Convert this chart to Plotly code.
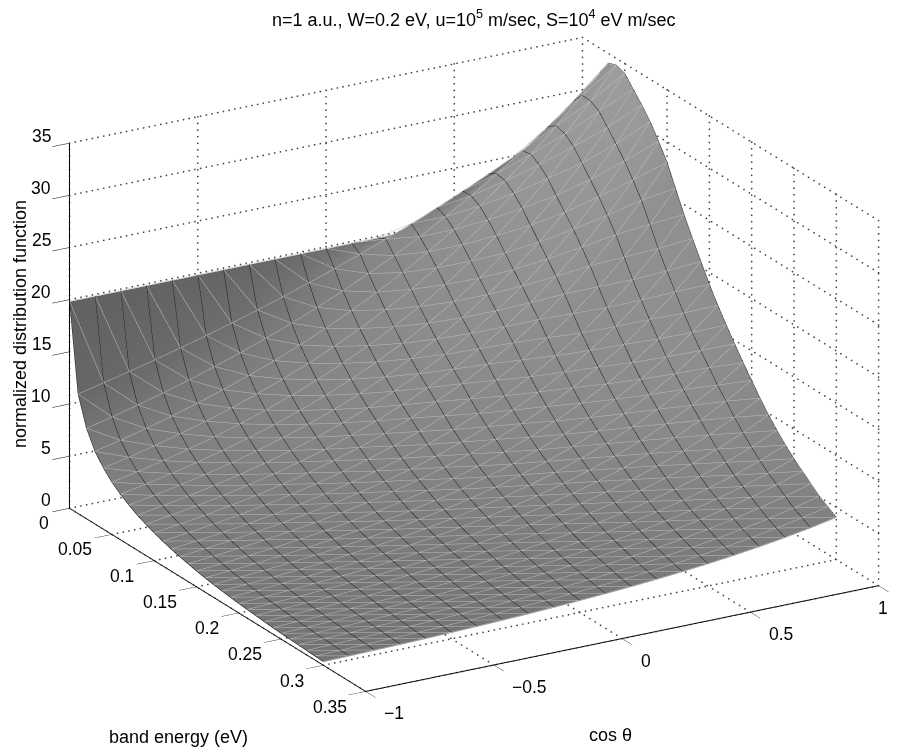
import numpy as np
import plotly.graph_objects as go

cos_theta = [-1, -0.9, -0.8, -0.7, -0.6, -0.5, -0.4, -0.3, -0.2, -0.1, 0,
             0.1, 0.2, 0.3, 0.4, 0.5, 0.6, 0.7, 0.8, 0.9, 1]
energy = [0, 0.01, 0.02, 0.03, 0.04, 0.05, 0.06, 0.07, 0.08, 0.09, 0.10, 0.11, 0.12, 0.13, 0.14, 0.15,
          0.16, 0.17, 0.18, 0.19, 0.20, 0.21, 0.22, 0.23, 0.24, 0.25, 0.26, 0.27, 0.28, 0.29, 0.30]
f_values = [
    [19.8]*21,
    [11.4,11.96,12.54,13.15,13.79,14.46,15.16,15.90,16.67,17.49,18.34,19.23,20.17,21.15,22.18,23.26,24.39,25.58,26.83,28.13,29.5],
    [8.6,9.19,9.82,10.50,11.22,11.99,12.81,13.69,14.63,15.64,16.72,17.87,19.09,20.40,21.81,23.30,24.90,26.62,28.44,30.40,32.5],
    [6.9,7.47,8.09,8.76,9.49,10.28,11.13,12.05,13.05,14.14,15.32,16.59,17.96,19.45,21.07,22.82,24.71,26.76,28.98,31.39,34.0],
    [5.8,6.34,6.93,7.57,8.27,9.04,9.88,10.80,11.80,12.90,14.10,15.41,16.84,18.41,20.12,21.99,24.03,26.26,28.70,31.37,34.3],
    [4.95,5.45,6.00,6.61,7.28,8.01,8.82,9.71,10.70,11.78,12.97,14.28,15.72,17.31,19.06,20.99,23.11,25.45,28.02,30.86,34.0],
    [4.3,4.76,5.27,5.84,6.47,7.16,7.93,8.78,9.72,10.76,11.91,13.19,14.61,16.17,17.91,19.83,21.96,24.31,26.92,29.81,33.0],
    [3.77,4.19,4.67,5.19,5.78,6.43,7.16,7.97,8.87,9.87,10.98,12.22,13.60,15.13,16.84,18.74,20.86,23.21,25.83,28.75,32.0],
    [3.3,3.69,4.13,4.61,5.16,5.77,6.45,7.22,8.07,9.03,10.10,11.29,12.63,14.12,15.79,17.66,19.75,22.09,24.70,27.62,30.9],
    [2.93,3.29,3.69,4.14,4.65,5.22,5.86,6.57,7.38,8.28,9.30,10.44,11.71,13.15,14.76,16.56,18.59,20.87,23.42,26.29,29.5],
    [2.6,2.93,3.30,3.71,4.18,4.71,5.30,5.97,6.73,7.57,8.53,9.61,10.82,12.18,13.72,15.45,17.40,19.60,22.07,24.86,28.0],
    [2.31,2.61,2.94,3.32,3.75,4.23,4.78,5.39,6.08,6.87,7.75,8.75,9.87,11.14,12.58,14.20,16.02,18.09,20.41,23.04,26.0],
    [2.05,2.32,2.62,2.96,3.35,3.79,4.29,4.85,5.48,6.20,7.01,7.93,8.97,10.14,11.47,12.97,14.67,16.59,18.76,21.22,24.0],
    [1.84,2.08,2.36,2.67,3.03,3.43,3.88,4.40,4.98,5.64,6.39,7.24,8.20,9.28,10.51,11.91,13.49,15.27,17.30,19.59,22.2],
    [1.65,1.87,2.12,2.41,2.73,3.10,3.51,3.98,4.52,5.13,5.82,6.60,7.48,8.49,9.63,10.92,12.39,14.05,15.94,18.08,20.5],
    [1.46,1.66,1.89,2.14,2.44,2.77,3.14,3.57,4.06,4.61,5.24,5.95,6.77,7.69,8.74,9.93,11.28,12.82,14.57,16.55,18.8],
    [1.3,1.48,1.68,1.92,2.18,2.48,2.83,3.22,3.66,4.17,4.74,5.40,6.14,6.99,7.96,9.06,10.31,11.73,13.35,15.20,17.3],
    [1.17,1.33,1.52,1.73,1.97,2.24,2.56,2.91,3.32,3.78,4.31,4.91,5.60,6.38,7.27,8.28,9.43,10.75,12.25,13.96,15.9],
    [1.05,1.20,1.37,1.56,1.78,2.03,2.31,2.64,3.01,3.44,3.92,4.47,5.10,5.82,6.64,7.57,8.64,9.85,11.24,12.82,14.6],
    [0.945,1.08,1.23,1.41,1.61,1.83,2.09,2.39,2.72,3.11,3.55,4.05,4.62,5.27,6.02,6.87,7.84,8.95,10.21,11.65,13.3],
    [0.85,0.97,1.11,1.27,1.45,1.65,1.89,2.16,2.46,2.81,3.21,3.67,4.19,4.78,5.46,6.24,7.12,8.13,9.29,10.61,12.1],
    [0.77,0.88,1.00,1.15,1.31,1.49,1.71,1.95,2.22,2.54,2.90,3.31,3.78,4.32,4.93,5.63,6.43,7.34,8.38,9.57,10.9],
    [0.70,0.80,0.91,1.04,1.19,1.35,1.55,1.76,2.01,2.30,2.62,2.99,3.41,3.89,4.44,5.07,5.78,6.60,7.53,8.59,9.8],
    [0.62,0.71,0.81,0.92,1.05,1.20,1.38,1.57,1.79,2.05,2.34,2.67,3.05,3.48,3.98,4.54,5.18,5.92,6.76,7.72,8.8],
    [0.55,0.63,0.72,0.82,0.94,1.07,1.22,1.40,1.60,1.82,2.08,2.38,2.72,3.10,3.55,4.05,4.63,5.29,6.04,6.91,7.9],
    [0.50,0.57,0.65,0.74,0.85,0.97,1.10,1.26,1.44,1.65,1.88,2.15,2.46,2.80,3.20,3.66,4.18,4.77,5.45,6.22,7.1],
    [0.45,0.51,0.59,0.67,0.77,0.87,1.00,1.14,1.30,1.49,1.70,1.94,2.22,2.53,2.89,3.30,3.77,4.31,4.92,5.62,6.4],
    [0.41,0.47,0.53,0.61,0.69,0.79,0.90,1.03,1.18,1.34,1.53,1.75,1.99,2.27,2.59,2.96,3.37,3.85,4.39,5.01,5.7],
    [0.37,0.42,0.48,0.55,0.62,0.71,0.81,0.92,1.05,1.19,1.36,1.55,1.76,2.01,2.29,2.61,2.97,3.38,3.85,4.39,5.0],
    [0.33,0.37,0.43,0.49,0.55,0.63,0.72,0.82,0.94,1.07,1.22,1.39,1.58,1.80,2.06,2.34,2.67,3.04,3.47,3.95,4.5],
    [0.30,0.34,0.39,0.44,0.50,0.57,0.65,0.74,0.84,0.96,1.10,1.25,1.42,1.62,1.84,2.09,2.38,2.71,3.08,3.51,4.0],
]
cos_ticks = [-1, -0.5, 0, 0.5, 1]
cos_labels = ["−1", "−0.5", "0", "0.5", "1"]
energy_ticks = [0, 0.05, 0.1, 0.15, 0.2, 0.25, 0.3, 0.35]
energy_labels = ["0", "0.05", "0.1", "0.15", "0.2", "0.25", "0.3", "0.35"]
z_ticks = [0, 5, 10, 15, 20, 25, 30, 35]
z_labels = ["0", "5", "10", "15", "20", "25", "30", "35"]

FONT = "Liberation Sans"

cmin, cmax = cos_ticks[0], cos_ticks[-1]
emin, emax = energy_ticks[0], energy_ticks[-1]
zmin, zmax = z_ticks[0], z_ticks[-1]

# dotted grid on the floor and the two back walls
gx, gy, gz = [], [], []
def seg(a, b, n):
    for i in range(n + 1):
        t = i / n
        gx.append(a[0] + (b[0] - a[0]) * t)
        gy.append(a[1] + (b[1] - a[1]) * t)
        gz.append(a[2] + (b[2] - a[2]) * t)
for c in cos_ticks:
    seg((c, emin, zmin), (c, emax, zmin), 55)
    seg((c, emin, zmin), (c, emin, zmax), 55)
for e in energy_ticks:
    seg((cmin, e, zmin), (cmax, e, zmin), 90)
    seg((cmax, e, zmin), (cmax, e, zmax), 55)
for v in z_ticks:
    seg((cmin, emin, v), (cmax, emin, v), 90)
    seg((cmax, emin, v), (cmax, emax, v), 55)
grid = go.Scatter3d(x=gx, y=gy, z=gz, mode="markers", hoverinfo="skip", showlegend=False,
                    marker=dict(color="#444444", size=1.0, line=dict(width=0)))

# flat-lit shading worked out from the surface slope, in box-normalised units
Z = np.array(f_values)
dz_de, dz_dc = np.gradient(Z, np.array(energy), np.array(cos_theta))
sx = -dz_dc * (0.66 / (zmax - zmin)) * (cmax - cmin)
sy = -dz_de * (0.66 / (zmax - zmin)) * (emax - emin)
norm = np.sqrt(sx**2 + sy**2 + 1)
light = (-0.9, 0.1, 0.4)
shade = 0.33 + 0.30 * np.clip((sx*light[0] + sy*light[1] + light[2]) / norm, 0, 1)

surface = go.Surface(
    x=cos_theta, y=energy, z=f_values, surfacecolor=shade,
    colorscale=[[0, "#000000"], [1, "#ffffff"]], cmin=0, cmax=1, showscale=False, hoverinfo="skip",
    lighting=dict(ambient=1.0, diffuse=0.0, specular=0.0, roughness=1.0, fresnel=0.0),
)

# wire mesh: constant cos lines (dark), constant energy and diagonal facet edges (light)
LIFT = 0.06
dx, dy, dz = [], [], []
for j, c in enumerate(cos_theta):
    for i, e in enumerate(energy):
        dx.append(c); dy.append(e); dz.append(f_values[i][j] + LIFT)
    dx.append(None); dy.append(None); dz.append(None)
lx, ly, lz = [], [], []
for i, e in enumerate(energy):
    for j, c in enumerate(cos_theta):
        lx.append(c); ly.append(e); lz.append(f_values[i][j] + LIFT)
    lx.append(None); ly.append(None); lz.append(None)
for i in range(len(energy) - 1):
    for j in range(len(cos_theta) - 1):
        lx.extend([cos_theta[j], cos_theta[j+1], None])
        ly.extend([energy[i], energy[i+1], None])
        lz.extend([f_values[i][j] + LIFT, f_values[i+1][j+1] + LIFT, None])
mesh_light = go.Scatter3d(x=lx, y=ly, z=lz, mode="lines", hoverinfo="skip", showlegend=False,
                          line=dict(color="#bdbdbd", width=1))
mesh_dark = go.Scatter3d(x=dx, y=dy, z=dz, mode="lines", hoverinfo="skip", showlegend=False,
                         line=dict(color="#1a1a1a", width=1))

def axis(ticks, rng, tl=20):
    return dict(title=dict(text=""), tickvals=ticks, range=rng, autorange=False,
                showgrid=False, zeroline=False, showbackground=False, showspikes=False,
                showline=True, linecolor="black", linewidth=2, showticklabels=False,
                ticks="outside", ticklen=tl, tickcolor="black", tickwidth=1)

d = 1.226
k = 1.571
dirx, diry, dirz = -0.467*d, -0.809*d, 0.357*d
cenx, ceny, cenz = -0.0443, 0.0031, -0.051
# the page body adds an 8px margin, so paper coordinates sit 8px up and left of the picture
def note(text, x, y, size, angle=0, anchor="center"):
    return dict(text=text, x=(x-8)/902, y=1-(y-8)/754, xref="paper", yref="paper", showarrow=False,
                xanchor=anchor, yanchor="middle", textangle=angle,
                font=dict(family=FONT, size=size, color="black"))
notes = [
    note("n=1 a.u., W=0.2 eV, u=10<sup>5</sup> m/sec, S=10<sup>4</sup> eV m/sec", 474, 19, 18),
    note("normalized distribution function", 20, 324, 18, -90),
    note("band energy (eV)", 178, 737, 18),
    note("cos θ", 610, 735, 18),
]
TICK = 17.5
for v, t in zip(z_ticks, z_labels):
    notes.append(note(t, 53, 500 - 10.4 * (v - zmin), TICK, anchor="right"))
for v, t in zip(energy_ticks, energy_labels):
    f = (v - emin) / (emax - emin)
    notes.append(note(t, 51 + 298 * f, 523 + 184 * f, TICK, anchor="right"))
for v, t in zip(cos_ticks, cos_labels):
    f = (v - cmin) / (cmax - cmin)
    # the visible page ends near x=887, so the last label is pulled in just enough to show
    notes.append(note(t, min(382 + 513 * f, 876), 713 - 105 * f, TICK, anchor="left"))

layout = go.Layout(
    width=902, height=754, margin=dict(l=0, r=0, t=0, b=0),
    paper_bgcolor="white", showlegend=False,
    scene=dict(
        domain=dict(x=[0, 1], y=[0, 1]),
        xaxis=axis(cos_ticks, [cmin, cmax]),
        yaxis=axis(energy_ticks, [emax, emin]),
        zaxis=axis(z_ticks, [zmin, zmax]),
        aspectmode="manual", aspectratio=dict(x=k, y=k, z=0.66*k),
        camera=dict(eye=dict(x=dirx+cenx, y=diry+ceny, z=dirz+cenz),
                    center=dict(x=cenx, y=ceny, z=cenz), up=dict(x=0, y=0, z=1),
                    projection=dict(type="orthographic")),
    ),
    annotations=notes,
)
fig = go.Figure(data=[surface, mesh_light, mesh_dark, grid], layout=layout)
fig.write_html("out.html")
